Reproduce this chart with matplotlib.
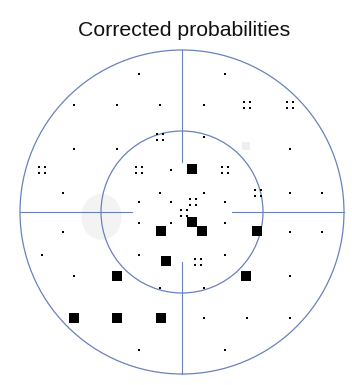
import matplotlib.pyplot as plt
import numpy as np
from matplotlib.path import Path
from matplotlib.patches import Circle, Ellipse

# 점 위치 (도 단위, 시야 중심 기준)
dot_x = [-8, 8, -20, -12, -4, 4, 4, -20, -12, 20, -2, -22, -4, 4, 20, 26,
         -8, -2, 8, -8, -2, 8, -22, 20, 26, -26, -8, 8, -20, 20, -4, 4,
         4, 12, 20, -8, 8]
dot_y = [25.6, 25.6, 19.8, 19.8, 19.8, 19.8, 13.9, 11.7, 11.7, 11.7, 7.8, 3.6, 3.6, 3.6, 3.6, 3.6,
         1.9, 1.9, 1.9, -2.1, -2.1, -2.1, -3.7, -3.7, -3.7, -7.9, -7.9, -7.9, -11.8, -11.8, -14.1, -14.1,
         -19.6, -19.6, -19.6, -25.6, -25.6]

quad_x = [12, 20, -4, -26, -8, 8, 14, 2.1, 0.3, 3.0]
quad_y = [19.8, 19.8, 13.9, 7.8, 7.8, 7.8, 3.6, 1.9, -0.2, -9.2]

square_x = [1.9, 1.9, -3.9, 3.7, 13.9, -3.0, -12.0, 11.8, -20.0, -12.0, -3.9]
square_y = [7.9, -1.9, -3.6, -3.6, -3.6, -9.0, -11.8, -11.8, -19.6, -19.6, -19.6]

faint_x = [11.8]
faint_y = [12.2]

outer_r = 30
inner_r = 15
gap = 9.2
line_color = '#6a82bb'

fig = plt.figure(figsize=(3.52, 3.85), dpi=100)
ax = fig.add_axes([12 / 352, 3 / 385, 340 / 352, 340 / 385])
lim = 170 / 5.4
ax.set_xlim(-lim, lim)
ax.set_ylim(-lim, lim)
ax.set_aspect('equal')
ax.axis('off')

# 맹점 근처 희미한 음영
ax.add_patch(Ellipse((-14.9, -0.9), 7.5, 8.5, color='#f3f3f3', lw=0, zorder=0))

# 원과 축선
ax.add_patch(Circle((0, 0), outer_r, fill=False, ec=line_color, lw=0.9))
ax.add_patch(Circle((0, 0), inner_r, fill=False, ec=line_color, lw=0.9))
ax.plot([-outer_r, -gap], [0, 0], color=line_color, lw=0.8)
ax.plot([gap, outer_r], [0, 0], color=line_color, lw=0.8)
ax.plot([0, 0], [gap, outer_r], color=line_color, lw=0.8)
ax.plot([0, 0], [-outer_r, -gap], color=line_color, lw=0.8)

# 네 점 마커
verts = []
codes = []
h = 0.18
for cx in (-0.5, 0.5):
    for cy in (-0.5, 0.5):
        verts += [(cx - h, cy - h), (cx + h, cy - h), (cx + h, cy + h), (cx - h, cy + h), (0, 0)]
        codes += [Path.MOVETO, Path.LINETO, Path.LINETO, Path.LINETO, Path.CLOSEPOLY]
quad_marker = Path(verts, codes)

ax.scatter(faint_x, faint_y, marker='s', s=30, c='#efefef', lw=0, zorder=1)
ax.scatter(dot_x, dot_y, marker='s', s=3.2, c='black', lw=0, zorder=3)
ax.scatter(quad_x, quad_y, marker=quad_marker, s=30, c='black', lw=0, zorder=3)
ax.scatter(square_x, square_y, marker='s', s=46, c='black', lw=0, zorder=3)

fig.text(184 / 352, 1 - 31 / 385, 'Corrected probabilities', ha='center', va='center',
         fontsize=15.3, family='Liberation Sans', color='#111111')

plt.savefig('out.png', dpi=100)
